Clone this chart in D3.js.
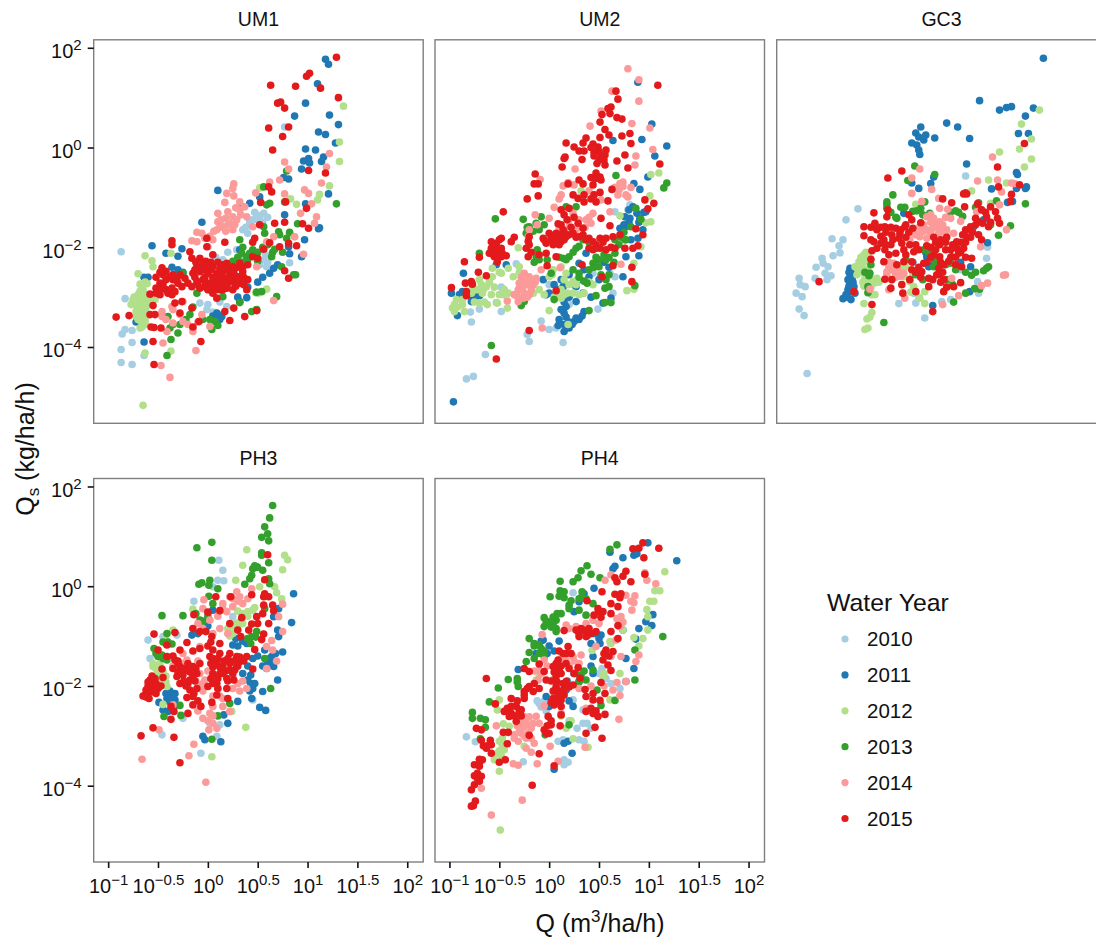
<!DOCTYPE html>
<html>
<head>
<meta charset="utf-8">
<script src="https://cdn.jsdelivr.net/npm/d3@7"></script>
<style>
body { margin: 0; background: #fff; }
svg { display: block; font-family: "Liberation Sans", Arial, sans-serif; }
</style>
</head>
<body>
<div id="chart"></div>
<script>
const years = ["2010", "2011", "2012", "2013", "2014", "2015"];
const colors = ["#a6cee3", "#1f78b4", "#b2df8a", "#33a02c", "#fb9a99", "#e31a1c"];
const xTicks = [-1, -0.5, 0, 0.5, 1, 1.5, 2];
const yTicks = [-4, -2, 0, 2];

const um1_2010 = [[-.87,-2.09],[-.83,-3.03],[-.83,-3.65],[-.86,-3.74],[-.76,-3.67],[-.76,-3.91],[-.87,-4.05],[-.87,-4.31],[-.76,-4.35],[-.64,-4.17],[.77,.41],[.49,-1.35],[.56,-1.32],[.45,-1.45],[.4,-1.72],[.56,-2.25],[.59,-2.39],[.29,-2.05],[.32,-2.19],[.82,-2.31],[.12,-1.52],[-.08,-3.12],[-.01,-3.25],[.19,-3.19],[.52,-1.4],[.47,-1.3],[.38,-1.6],[.6,-2.3],
  [.5,-1.45],[.55,-1.5],[.42,-1.55],[.35,-1.65],[.42,-1.5],[.58,-2.15],[.52,-2.35],[.6,-1.4],[.2,-2.1],[.08,-2.2],[.15,-2.25],[.05,-3.3],[.12,-3.1],[0,-3.15]];
const um1_2011 = [[1.18,1.77],[1.21,1.67],[1.1,1.28],[.98,.89],[.87,.63],[1.22,.65],[1.31,.46],[1.11,.31],[1.18,.26],[1.28,.09],[.98,-.03],[1.08,-.05],[1.16,-.19],[1.14,-.28],[1.01,-.22],[.96,-.27],[1.02,-.31],[.94,-.43],[.76,-.6],[.81,-.63],[1.21,-.93],[.98,-1.13],[1.11,-1.63],[1.12,-1.61],[.1,-.86],[-.06,-1.5],[-.56,-1.97],[-.26,-2.03],[-.42,-2.12],[-.3,-2.18],[-.36,-2.4],[-.64,-2.6],[-.6,-2.6],[-.72,-3.5],[-.64,-3.9],[.1,-3.35],[.09,-3.32],[.14,-3.39],[.32,-3.09],[.39,-3.01],[.62,-2.52],[.66,-2.42],[.94,-2.19],[.97,-1.85],[.81,-1.99],[.82,-2.13],[.77,-1.35],[.52,-.99],[.42,-1.12],[.34,-1.19],[.32,-2.05],[.7,-2.35],
  [.12,-3.45],[.08,-3.42],[.05,-3.38],[.3,-3],[.4,-2.8],[.55,-2.6],[.5,-2.7],[-.3,-2.45],[-.1,-2.4],[-.25,-2.5]];
const um1_2012 = [[1.36,.83],[1.32,.11],[1.32,-.28],[1.22,-.77],[1.12,-.94],[1.1,-1.05],[.89,-1.14],[.83,-1.03],[.52,-.81],[-.37,-2.12],[-.63,-2.17],[-.56,-2.27],[-.55,-2.39],[-.7,-2.53],[-.68,-2.74],[-.61,-2.73],[-.7,-2.95],[-.75,-3.05],[-.72,-3.15],[-.65,-3.05],[-.58,-2.99],[-.53,-3.05],[-.77,-3.15],[-.68,-3.29],[-.62,-3.22],[-.72,-3.39],[-.67,-3.49],[-.62,-3.39],[-.68,-3.62],[-.63,-3.55],[-.73,-3.02],[-.6,-3.12],[-.65,-2.92],[-.37,-4.08],[-.63,-4.12],[-.65,-5.17],[.5,-2.92],[.59,-2.84],[.48,-2.91],[.87,-1.79],[.82,-1.72],
  [-.74,-3],[-.7,-3.1],[-.66,-3.15],[-.6,-3.08],[-.56,-3.1],[-.7,-3.25],[-.65,-3.3],[-.72,-3.28],[-.66,-3.42],[-.7,-3.45],[-.63,-3.48],[-.66,-3.6],[-.65,-2.85],[-.68,-2.88],[-.62,-2.95],[-.55,-3],[-.75,-3.1],[-.63,-2.7]];
const um1_2013 = [[1.29,-1.13],[.79,-.47],[.56,-.79],[.59,-1.15],[.62,-1.12],[.77,-1.09],[.9,-1.53],[.79,-1.82],[.71,-1.69],[.57,-1.72],[.56,-1.59],[.32,-1.85],[.34,-2.12],[.39,-2.19],[.45,-2.05],[.4,-2.25],[.29,-2.32],[.22,-2.39],[.64,-2.19],[.67,-2.04],[.74,-2.39],[.86,-2.55],[.88,-2.55],[.69,-2.99],[.54,-2.89],[.49,-2.9],[.49,-3.25],[.44,-3.29],[.32,-3.11],[.04,-3.65],[.1,-3.57],[.07,-3.49],[-.3,-3.72],[-.38,-3.62],[-.37,-3.85],[-.41,-4.17],[-.4,-3.39],[-.18,-3.35],[-.11,-2.92],[.09,-2.72],[.15,-2.99],[-.25,-2.52],[-.35,-2.55],
  [.35,-2],[.42,-2.12],[.5,-2.1],[.55,-2],[.6,-1.95],[.3,-2.2],[.36,-2.3],[.5,-2.28],[.65,-2.1],[.25,-2.28],[.72,-1.75],[.75,-2.1],[.82,-1.7],[.12,-2.8],[-.15,-3.2],[-.22,-3.45],[-.05,-3.45],[.02,-3.45],[-.35,-3.55],[-.28,-3.55]];
const um1_2014 = [[1.22,-.12],[1.19,-.39],[1.14,-.71],[.97,-.85],[1.01,-.92],[1.04,-1.13],[.93,-1.32],[1.09,-1.39],[1.07,-1.52],[.77,-.29],[.81,-.43],[.72,-.65],[.62,-.69],[.77,-.93],[.48,-.91],[.26,-.73],[.25,-.82],[.19,-.92],[.26,-.97],[.17,-1.1],[.32,-1.09],[.28,-1.21],[.37,-1.19],[.1,-1.32],[.2,-1.29],[.25,-1.39],[.1,-1.49],[.15,-1.59],[.22,-1.52],[.29,-1.45],[.39,-1.39],[.25,-1.65],[.09,-1.65],[.45,-1.59],[-.11,-1.7],[-.06,-1.72],[-.16,-1.87],[-.11,-1.89],[.05,-1.85],[0,-1.99],[.66,-1.79],[.59,-1.89],[.87,-1.79],[.96,-2.14],[.49,-2.39],[.66,-3.07],[-.36,-3.19],[-.25,-3.09],[-.46,-3.29],[-.46,-3.39],[-.35,-3.52],[-.25,-3.49],[-.15,-3.62],[-.15,-3.69],[-.06,-3.35],[.02,-3.59],[-.41,-3.69],[-.45,-3.92],[-.12,-4.07],[-.47,-4.37],[-.38,-4.61],
  [.13,-1.45],[.18,-1.42],[.2,-1.55],[.27,-1.55],[.12,-1.6],[.33,-1.35],[.06,-1.68],[.18,-1.68],[.32,-1.25],[.02,-1.78],[-.03,-1.82],[-.35,-3.25],[-.28,-3.35],[-.2,-3.55],[-.1,-3.5],[-.42,-3.45]];
const um1_2015 = [[1.29,1.81],[1.02,1.49],[.99,1.43],[.63,1.25],[.88,1.23],[1.13,1.19],[1.31,1],[.7,.89],[.73,.91],[.77,.79],[.61,.39],[.81,.41],[.75,.22],[.65,-.05],[1.01,-.46],[1.18,-.51],[.61,-.79],[.64,-.89],[.53,-1.1],[.78,-1.09],[.99,-1.22],[.77,-1.5],[.67,-1.52],[.52,-1.55],[.95,-1.53],[1.01,-1.62],[.47,-1.82],[.45,-1.9],[.62,-1.91],[.72,-1.99],[.81,-1.92],[.89,-1.97],[.56,-2.04],[.45,-2.19],[.5,-2.22],[-.36,-1.87],[-.36,-1.95],[-.18,-2.09],[-.16,-2.22],[-.01,-1.82],[-.01,-1.99],[.17,-1.9],[.05,-2.15],
  [-.08,-2.22],[-.05,-2.32],[-.11,-2.39],[-.01,-2.39],[-.15,-2.52],[-.08,-2.49],[0,-2.52],[.05,-2.39],[.09,-2.52],[.19,-2.32],[.25,-2.39],[.32,-2.32],[.4,-2.35],[.15,-2.49],[.22,-2.55],[.29,-2.59],[.35,-2.49],[-.11,-2.69],[-.05,-2.65],[.02,-2.72],[.09,-2.69],[.15,-2.72],[.24,-2.69],[.32,-2.72],[.4,-2.65],[-.08,-2.82],[0,-2.85],[.05,-2.92],[.12,-2.85],[.19,-2.82],[.25,-2.85],[.39,-2.85],[.09,-3.02],[-.03,-2.79],
  [-.46,-2.41],[-.52,-2.6],[-.45,-2.55],[-.38,-2.59],[-.31,-2.62],[-.23,-2.62],[-.52,-2.82],[-.45,-2.75],[-.36,-2.82],[-.26,-2.79],[-.48,-2.95],[-.4,-2.92],[-.33,-2.89],[-.58,-2.94],[-.16,-2.79],[-.33,-3.12],[-.26,-3.09],[-.55,-3.17],[-.16,-3.22],[-.35,-2.65],
  [-.92,-3.4],[-.79,-3.37],[-.58,-3.35],[-.53,-3.35],[-.57,-3.6],[-.54,-3.61],[-.47,-3.62],[-.55,-3.89],[-.07,-3.89],[-.54,-4.35],[-.15,-3.6],[-.09,-3.49],[-.28,-3.32],[.17,-3.29],[.26,-3.22],[.22,-3.47],[.37,-3.39],[.49,-3.27],[.77,-2.47],[.81,-2.62],
  [-.12,-2.3],[-.02,-2.28],[.03,-2.3],[.1,-2.3],[.15,-2.35],[.3,-2.4],[.35,-2.4],[-.13,-2.45],[-.05,-2.45],[.03,-2.45],[.12,-2.42],[.2,-2.45],[.26,-2.5],[.33,-2.58],[-.13,-2.6],[-.03,-2.6],[.05,-2.6],[.12,-2.6],[.18,-2.62],[.26,-2.65],[.36,-2.6],[-.1,-2.75],[-.02,-2.72],[.05,-2.78],[.12,-2.75],[.2,-2.72],[.28,-2.78],[.36,-2.75],[.02,-2.85],[.08,-2.85],[.15,-2.85],[-.48,-2.5],[-.42,-2.48],[-.42,-2.65],[-.35,-2.55],[-.48,-2.72],[-.42,-2.85],[-.3,-2.72],[-.2,-2.72],[-.48,-2.85],[-.36,-2.95],[-.52,-2.92],[-.28,-2.55]];

const um2_2010 = [[.14,-3.91],[-.2,-3.89],[-.22,-3.75],[-.64,-4.15],[-.76,-4.59],[-.83,-4.64],[-.78,-3.5],[-.79,-3.3],[-.7,-3.24],[-.48,-3.29],[-.08,-3.48],[0,-3.65],[.07,-3.62],[.2,-3.15],[.49,-3.24],[-.33,-2.33],[0,-2.75],[.61,-2.52],[.66,-2.59],[.44,-2.52],[.81,-1.15],[.79,-1.25],[.66,-1.29],[.64,-2.92],[-.53,-3.11],[-.48,-2.8]];
const um2_2011 = [[-.96,-5.1],[.89,1.31],[1.03,.47],[.93,.16],[1.18,.03],[.64,.14],[1.06,-.17],[.99,-.59],[.85,-.72],[.91,-.84],[-.86,-2.52],[-.98,-2.92],[-.92,-3.37],[-.87,-2.89],[-.78,-3.09],[-.7,-2.97],[-.53,-2.35],[-.43,-2.35],[.15,-3.69],[.09,-3.57],[.2,-3.62],[.3,-3.45],[.25,-3.49],[.15,-3.32],[.17,-3.19],[.27,-3.09],[.35,-3.29],[0,-2.92],[-.03,-2.95],[.14,-2.79],[.12,-2.65],[.4,-2.59],[.3,-2.32],[.37,-2.12],[.47,-2.02],[.54,-3.12],[.62,-3.02],[.74,-2.59],[.77,-2.19],[.9,-2.17],[.89,-1.82],[.94,-1.65],[.84,-1.19],[.97,-1.29],[.76,-1.39],[.81,-1.42],[.91,-1.42],[.71,-1.62],[.77,-1.59],[.27,-2.79],[.09,-2.85],[-.06,-2.65],[.34,-2.92],[.17,-3.4],[.2,-3.5],[.33,-3.38],[.12,-3.25],
  [.15,-3.55],[.1,-3.45],[.23,-3.55],[.27,-3.42],[.15,-3.1],[.2,-3],[.42,-3],[.4,-2.7],[.45,-2.35],[.55,-2.3],[.35,-2.45],[.6,-2.4],[.5,-2.65],[.3,-2.65],[.2,-2.55],[.05,-2.75],[.8,-1.5],[.9,-1.5],[.82,-1.85],[.75,-1.55],[.95,-1.3],[.88,-1.32],[.8,-1.25],[-.8,-2.95],[-.75,-3],[-.9,-2.95]];
const um2_2012 = [[1.02,-.54],[1.1,-.51],[1.01,-.97],[1.02,-1.49],[.97,-1.51],[.71,-1.37],[.92,-1.99],[.85,-2.32],[.85,-2.84],[.78,-2.87],[0,-3.27],[-.42,-3.22],[.19,-3.55],[.32,-.87],
  [-.97,-3.22],[-.95,-3.29],[-.93,-3.05],[-.87,-3.15],[-.85,-3.29],[-.78,-2.92],[-.77,-2.79],[-.7,-2.65],[-.63,-2.79],[-.57,-2.59],[-.67,-2.92],[-.58,-2.95],[-.7,-3.12],[-.62,-3.15],[-.52,-3.12],[-.45,-2.85],[-.41,-2.92],[-.48,-2.52],[-.41,-2.42],[-.57,-2.42],[-.36,-2.59],[-.3,-2.39],[-.16,-2.92],[-.1,-2.85],
  [.04,-2.45],[.12,-2.39],[.17,-2.52],[.24,-2.69],[.27,-2.75],[.12,-2.85],[.15,-2.95],[.24,-2.92],[.35,-2.92],[.44,-2.75],[0,-2.59],[.12,-3.02],[-.31,-2.01],
  [-.68,-2.75],[-.66,-2.85],[-.6,-2.7],[-.55,-2.8],[-.72,-2.85],[-.75,-3.1],[-.92,-3.2],[-.95,-3.15],[-.87,-3.05],[-.65,-3.1],[-.5,-2.95],[-.46,-2.95],[-.3,-2.5],[-.5,-2.5],[.03,-2.55],[.15,-2.65],[.2,-2.75],[.28,-2.65],[.18,-2.92],[.1,-2.95],[.4,-2.7],[.3,-2.95],[-.05,-2.95],[.05,-3]];
const um2_2013 = [[-.58,-3.97],[-.54,-1.43],[-.7,-2.12],[-.26,-1.44],[.67,-.56],[1.18,-.71],[1.15,-.81],[.86,-2.77],[-.28,-3.17],[-.25,-3.09],[.05,-3.05],[.4,-3.27],[.56,-3.11],[.62,-3.11],[.47,-2.97],[.56,-2.82],[.6,-2.79],[.02,-2.52],[.24,-2.45],[.3,-2.52],[.44,-2.32],[.5,-2.39],[.57,-2.25],[.66,-2.12],[.77,-1.85],[.82,-1.59],[.92,-1.44],[.87,-1.22],[-.2,-1.59],[-.13,-1.52],[-.05,-1.55],[-.08,-1.39],[-.23,-1.72],[-.13,-2.19],[-.1,-2.25],[.14,-2.22],[.2,-2.19],[.27,-2.02],[.34,-1.85],[.66,-1.85],[.76,-1.85],[.17,-1.19],[.27,-1.19],
  [.1,-2.2],[.17,-2.25],[.24,-2.1],[.3,-1.98],[.4,-1.9],[.47,-2.2],[.5,-2.25],[.55,-2.15],[.6,-2.2],[.52,-2.55],[.57,-2.65],[.6,-2.55],[.65,-2.3],[.7,-1.95],[.3,-2.6],[.35,-2.68],[.38,-2.72],[-.02,-2.25],[-.12,-2.05],[-.16,-1.68],[-.22,-1.6],[-.1,-1.65],[.75,-1.7],[.72,-1.8],[.45,-2.4],[.4,-2.45],[-.15,-2.3]];
const um2_2014 = [[.79,1.58],[.9,1.36],[.9,.93],[.63,1.13],[.52,.73],[.41,.43],[.83,.48],[1.01,.39],[1.04,-.04],[.87,-.17],[.86,-.35],[.26,-.43],[-.09,-.64],[.14,-.77],[.19,-.7],[.4,-.87],[.71,-.72],[.74,-.69],[.69,-.95],[.79,-.99],[.82,-.8],[.1,-1.03],[.05,-1.2],[.52,-1.05],[.61,-1.29],[.44,-1.32],[.24,-1.32],[.37,-1.45],[.2,-1.59],[.27,-1.65],[-.14,-1.35],[0,-1.42],[-.21,-1.79],[-.08,-2.45],[.11,-2.41],[.72,-2.34],[-.42,-3.08],[-.07,-3.62],
  [-.25,-2.52],[-.2,-2.59],[-.13,-2.62],[-.3,-2.72],[-.23,-2.75],[-.16,-2.75],[-.31,-2.85],[-.25,-2.92],[-.2,-2.95],[-.35,-2.95],[-.31,-3.09],[-.26,-3.02],
  [.12,-.95],[.2,-1.45],[.3,-1.45],[.3,-1.6],[.4,-1.4],[.42,-1.52],[.36,-1.6],[.1,-1.6],[.15,-1.7],[-.12,-1.55],[-.2,-1.65],[.66,-.8],[.7,-.85],[.74,-.78],[.77,-.95],[.45,-.95],[.25,-.75],[-.27,-2.65],[-.2,-2.68],[-.27,-2.82],[-.18,-2.85],[-.22,-3],[-.32,-2.98],[-.28,-2.6],[-.14,-2.7]];
const um2_2015 = [[1.09,1.25],[.67,1.13],[.69,.97],[.62,.81],[.59,.78],[.61,.68],[.53,.66],[.68,.6],[.73,.57],[.51,.51],[.56,.36],[.73,.23],[.81,.28],[.82,.08],[.6,.25],[.51,.2],[.37,.19],[.17,.09],[.25,.01],[.34,.09],[.44,.07],[.49,.01],[.57,-.05],[.3,-.07],[.35,-.07],[.45,-.17],[.52,-.19],[.56,-.15],[.76,-.15],[.33,-.24],[.16,-.19],[.15,-.22],[.68,-.27],[.48,-.32],[.56,-.35],[.13,-.39],[.79,-.41],[1.11,-.33],[-.14,-.53],[-.11,-.73],[-.15,-.73],[.47,-.51],[.51,-.59],[.3,-.65],[.34,-.73],[.19,-.73],[.44,-.75],[.52,-.65],[.63,-.84],[-.11,-.97],[-.22,-1.03],[.24,-.95],[.51,-.9],[.29,-1.02],[.35,-1.09],[.42,-1.03],[.47,-1.09],[.59,-1.07],[.96,-1.05],[1.05,-1.12],[.99,-1.23],[-.46,-1.29],[.2,-1.22],[.12,-1.25],[.15,-1.35],[.29,-1.52],[.52,-1.42],[.61,-1.57],[.09,-1.53],[.34,-1.62],
  [-.06,-1.82],[-.03,-1.92],[.02,-1.79],[.07,-1.72],[.14,-1.65],[.17,-1.79],[.05,-1.89],[.12,-1.89],[.24,-1.72],[.3,-1.79],[.37,-1.85],[.44,-1.89],[.51,-1.82],[.57,-1.82],[.64,-1.79],[.71,-1.75],[.87,-1.63],[.94,-1.75],[.4,-2.02],[.51,-2.02],[.57,-2.05],[.66,-2.02],[.76,-2.02],[.84,-2.02],[.89,-1.97],[-.23,-2.02],[-.2,-1.79],[-.21,-2.19],[-.1,-2.15],[-.03,-2.12],[.07,-2.19],[-.02,-2.37],[.33,-2.35],[.64,-2.37],[.53,-2.59],[.83,-2.4],[.83,-2.69],[.07,-2.87],[-.2,-3.67],[-.53,-4.24],
  [-.58,-1.89],[-.53,-1.92],[-.48,-1.82],[-.58,-2.02],[-.53,-2.05],[-.48,-2.02],[-.6,-2.12],[-.55,-2.19],[-.48,-2.19],[-.43,-2.17],[-.52,-2.29],[-.38,-1.89],[-.35,-1.8],[-.85,-2.29],[-.7,-2.2],[-.71,-2.5],[-.63,-2.57],[-.78,-2.69],[-.84,-2.72],[-.77,-2.74],[-.83,-2.89],[-.83,-2.97],[-.98,-2.81],
  [0,-1.72],[.05,-1.78],[.1,-1.75],[.15,-1.7],[.2,-1.75],[.02,-1.85],[.08,-1.85],[.15,-1.85],[.1,-1.95],[.04,-1.95],[.27,-1.8],[.34,-1.75],[.4,-1.82],[.47,-1.95],[.54,-1.9],[.44,-2.05],[.62,-2],[-.2,-1.95],[-.18,-2.1],[-.21,-1.88],[-.05,-1.85],[-.55,-1.98],[-.52,-2.1],[-.58,-2.08],[-.5,-1.85],[-.56,-2.15],[-.47,-2.12],[.45,-.1],[.5,-.08],[.42,0],[.55,-.25],[.5,-.25],[.47,-.62],[.42,-.6],[.45,-.95],[.35,-.95],[.25,-1.4],[.18,-1.45],[.12,-1.55],[.22,-1.6]];

const gc3_2010 = [[-.84,-4.53],[-.87,-3.37],[-.92,-3.24],[-.95,-2.92],[-.89,-2.99],[-.86,-2.79],[-.92,-2.62],[-.91,-2.75],[-.75,-2.4],[-.76,-2.62],[-.69,-2.22],[-.68,-2.32],[-.63,-2.39],[-.66,-2.52],[-.6,-2.57],[-.64,-2.65],[-.58,-2.17],[-.51,-2.11],[-.52,-1.97],[-.48,-1.85],[-.59,-1.83],[-.45,-1.45],[-.33,-1.23],[.75,-.57],[.08,-3.13],[.25,-3.12],[.34,-3.42],[.51,-3.09],[.6,-3.05],[.88,-2.92],[.96,-2.22],[.97,-2],[.87,-2.69],[.7,-2.45],[.23,-2.92]];
const gc3_2011 = [[1.53,1.79],[.89,.94],[1.09,.75],[1.16,.8],[1.21,.82],[1.43,.79],[1.35,.63],[1.28,.28],[1.38,.28],[.56,.49],[.67,.41],[.79,.18],[.44,.19],[.3,.41],[.25,.29],[.35,.25],[.28,.21],[.33,.15],[.21,.09],[.26,.05],[.28,-.05],[.29,-.14],[.76,-.33],[1.26,-.5],[1.27,-.54],[.4,-.72],[.43,-.59],[.21,-.71],[.28,-.82],[1.01,-.83],[1.26,-.82],[1.36,-.79],[1.35,-.82],[1.17,-1.1],[1.22,-1.08],[.75,-.91],[-.41,-2.42],[-.41,-2.59],[-.41,-2.72],[-.43,-2.85],[-.37,-2.79],[-.48,-3.03],[-.4,-3.05],[-.36,-2.92],[-.39,-2.62],[-.42,-2.5],[.42,-3.17],[.79,-2.89],[.97,-1.91],[.8,-2.39],[.38,-2.39],[.43,-2.32],[.36,-2.19],[.13,-1.32],[.93,-1.45],[.83,-1.59],
  [-.4,-2.5],[-.43,-2.65],[-.38,-2.7],[-.42,-2.78],[-.39,-2.88],[-.45,-2.95],[-.43,-3],[-.37,-2.55],[.35,-2.1],[.45,-2.2],[.5,-2.35],[.6,-2.2],[.7,-2.3],[.22,-2.3]];
const gc3_2012 = [[1.49,.75],[1.31,.47],[1.41,.17],[1.29,-.03],[1.41,-.23],[1.34,-.39],[1.09,-.09],[.98,-.65],[1.16,-.71],[.81,-.87],[.25,-1.14],[-.27,-2.15],[-.32,-2.29],[-.36,-2.39],[-.29,-2.39],[-.24,-2.45],[-.34,-2.55],[-.26,-2.62],[-.21,-2.59],[-.17,-2.72],[-.14,-2.62],[-.24,-2.79],[-.19,-2.95],[-.16,-2.95],[-.27,-3.13],[-.19,-3.31],[-.21,-3.4],[-.24,-3.44],[-.23,-3.62],[-.26,-3.65],[.34,-3.13],[.29,-3.02],[.34,-2.89],[.23,-2.79],[.19,-2.69],[.13,-2.59],[.08,-2.39],[.8,-1.59],[1,-1.12],
  [-.3,-2.2],[-.27,-2.3],[-.33,-2.45],[-.3,-2.5],[-.27,-2.48],[-.22,-2.5],[-.28,-2.7],[-.24,-2.62],[-.2,-2.7],[-.27,-2.78],[-.2,-2.8],[-.12,-2.7],[-.25,-2.28],[-.22,-2.2],[-.25,-2.1],[.22,-2.55],[.15,-2.4],[.28,-3],[.2,-2.9],[.1,-2.45],[.05,-2.55]];
const gc3_2013 = [[.24,-.37],[.44,-.54],[.17,-.66],[.02,-.95],[-.04,-1.09],[.34,-1.09],[.14,-1.2],[-.04,-1.22],[.06,-1.42],[.26,-1.27],[.39,-1.32],[.65,-1.27],[.88,-1.11],[1.06,-1.07],[1.35,-1.13],[1.2,-1.57],[1.08,-1.76],[-.07,-3.51],[.63,-3.1],[.75,-2.92],[.84,-2.83],[.89,-2.84],[.81,-2.56],[.93,-2.47],[.98,-2.39],[.96,-2.42],[-.26,-2.5],[-.22,-2.57],[-.2,-2.35],[-.23,-2.79],[-.23,-2.91],[-.21,-2.52],[.32,-2.65],[.56,-2.65],[.43,-2.39],[.33,-2.05],[.6,-2.32],
  [-.04,-1.15],[0,-1.3],[.05,-1.4],[-.02,-1.3],[.1,-1.2],[.22,-1.28],[.3,-1.22],[.32,-1.35],[.6,-1.3],[.68,-1.3],[.72,-1.38],[.9,-1.25],[.85,-1.2],[.38,-2.1],[.45,-2.28],[.55,-2.35],[.65,-2.45],[.75,-2.5],[.85,-2.5],[.62,-2.75],[.25,-2.55],[.15,-2.25],[1,-1.55]];
const gc3_2014 = [[1.02,-.19],[.29,-.43],[.21,-.61],[.87,-.67],[1.07,-.65],[1.21,-.71],[1.24,-.72],[.21,-.92],[.41,-.84],[.31,-1.08],[1.11,-.89],[1.09,-1.15],[.48,-1.02],[.49,-1.22],[.57,-1.24],[.6,-1.42],[.7,-1.48],[.86,-1.29],[1.16,-1.65],[1.15,-2.55],[1.13,-2.56],[.97,-2.72],[.91,-2.77],[.68,-2.97],[.52,-3.15],[.14,-3.02],[-.02,-2.85],[-.21,-2.84],[.9,-1.99],[.61,-2.62],
  [.36,-1.39],[.43,-1.42],[.49,-1.49],[.29,-1.59],[.36,-1.65],[.43,-1.59],[.49,-1.65],[.56,-1.65],[.23,-1.72],[.19,-1.85],[.29,-1.79],[.36,-1.82],[.63,-1.72],[-.02,-2.39],[.03,-2.32],[-.04,-2.49],[.04,-2.49],[.13,-2.52],
  [.4,-1.5],[.46,-1.55],[.52,-1.55],[.33,-1.68],[.4,-1.72],[.48,-1.72],[.25,-1.75],[.3,-1.7],[.22,-1.65],[.33,-1.55],[.42,-1.62],[.55,-1.72],[0,-2.45],[-.04,-2.55],[.02,-2.4],[.07,-2.45],[.1,-2.58],[.05,-2.6],[-.02,-2.3],[.4,-1.35],[.55,-1.4]];
const gc3_2015 = [[1.34,.08],[1.07,-.39],[.11,-.47],[-.03,-.61],[1.08,-.79],[1.29,-.75],[1.21,-.94],[1.2,-1.08],[.73,-.93],[.76,-.93],[.52,-1.03],[.61,-1.11],[.87,-1.13],[.74,-1.19],[-.17,-1.31],[-.03,-1.25],[.91,-1.25],[1,-1.19],[1.05,-1.29],[.96,-1.39],[1.07,-1.42],[.88,-1.49],[.98,-1.59],[.8,-1.59],[1.09,-1.52],[-.27,-1.59],[-.16,-1.52],[-.04,-1.39],[-.06,-1.59],[-.27,-1.77],[-.14,-1.65],[.18,-1.35],[.21,-1.45],[.3,-1.51],[.14,-1.59],[.09,-1.72],[.01,-1.75],[-.07,-1.85],[-.17,-1.89],[-.14,-2.02],[-.19,-2.07],[-.06,-2.05],[0,-1.95],[.11,-1.92],[.19,-1.95],[.13,-2.05],[.23,-2.09],[.43,-1.8],[.56,-1.8],[.49,-1.95],[.36,-1.97],[.6,-2.05],[.66,-1.89],[.76,-1.79],[.8,-1.65],[.88,-1.75],[.91,-1.85],[.73,-2.02],[.68,-2.12],[.81,-2.22],[.71,-2.39],[.61,-2.19],[.53,-2.35],[.43,-2.15],[.49,-2.19],[.33,-2.32],[.21,-2.29],[.13,-2.29],[.06,-2.35],[-.07,-2.29],[-.2,-2.24],[.21,-2.45],[.31,-2.49],[.48,-2.55],[.53,-2.65],[-.06,-2.64],[.01,-2.65],[.19,-2.65],[.38,-2.62],[.11,-2.75],[0,-2.82],[.12,-2.92],[.25,-2.89],[.38,-2.79],[.53,-2.89],[.63,-2.79],[.7,-2.71],[-.19,-3.15],[-.37,-2.89],[-.72,-2.69],[.42,-3.29],
  [0,-1.6],[.05,-1.62],[.1,-1.65],[-.2,-1.6],[-.1,-1.6],[-.05,-1.7],[-.1,-1.78],[-.2,-1.85],[.02,-1.85],[.08,-1.82],[.15,-1.8],[.22,-1.62],[.18,-1.7],[.15,-1.55],[.25,-1.95],[.28,-2.05],[.15,-2.15],[.05,-2.12],[-.02,-2.15],[-.05,-1.95],[-.1,-1.92],[.4,-2],[.45,-1.9],[.5,-1.85],[.55,-1.9],[.45,-2.05],[.55,-2.05],[.62,-1.95],[.66,-2.02],[.7,-1.9],[.75,-1.9],[.8,-1.8],[.72,-1.75],[.85,-1.55],[.92,-1.52],[1,-1.5],[.95,-1.3],[.85,-1.42],[.4,-2.2],[.36,-2.3],[.5,-2.3],[.58,-2.28],[.65,-2.2],[.7,-2.1],[.75,-2.2],[.65,-2.35],[.48,-2.42],[.52,-2.5],[.46,-2.55],[.28,-2.4],[.25,-2.5],[.3,-2.6],[.42,-2.65],[.5,-2.7],[.56,-2.8],[.75,-1.65],[.82,-1.7]];

const ph3_2010 = [[-.6,-1.08],[-.58,-1.45],[-.46,-2.98],[-.25,-2.65],[-.07,-3.35],[.11,.52],[.15,.32],[.1,.12],[.16,.11],[-.14,-.3],[-.45,-1.01],[-.31,-.98],[.09,-3.01],[.12,-2.78],[.02,-2.75],[.45,-2.28],[.05,-.01],[.25,-.61]];
const ph3_2011 = [[.86,-.15],[.84,-.73],[.75,-1.32],[.7,-1.88],[.66,-1.61],[.59,-1.65],[.64,-1.41],[.57,-1.28],[.71,-.45],[.66,-.61],[.71,-1.01],[.7,-.88],[.58,-2.49],[.52,-2.43],[.55,-2.11],[.44,-2.25],[.4,-1.88],[.47,-1.95],[.45,-1.45],[.25,-1.18],[.39,-1.15],[-.38,-2.21],[-.33,-2.15],[-.41,-2.25],[-.45,-2.48],[-.49,-2.33],[-.4,-2.51],[-.05,-3.01],[-.03,-3.08],[.13,-3.12],[.2,-2.75],[.16,-2.58],[.3,-2.31],[-.16,-.98],[.05,-.48],[-.38,-2.3],[-.33,-2.28],[.43,-1.95],[.62,-1.55],
  [-.38,-2.1],[-.4,-2.3],[-.35,-2.35],[-.42,-2.15],[-.34,-2.42],[.62,-1.45],[.6,-1.5],[.55,-1.6],[.68,-1.35],[.43,-1.78],[.42,-2.1],[.45,-2.05],[.35,-1.75],[.3,-1.2],[.35,-1.1],[.28,-1.05],[.5,-1.4],[.4,-1.6],[-.1,-.95],[0,-.8]];
const ph3_2012 = [[.38,-2.83],[.04,-3.42],[.39,.73],[.35,.42],[.77,.62],[.8,.53],[.75,.33],[.28,.12],[.67,-.01],[.69,-.13],[.74,-.25],[.52,-.01],[-.35,-.88],[-.55,-1.61],[-.5,-1.75],[-.45,-1.88],[-.41,-2.01],[-.45,-2.37],[-.15,-.46],[.4,-.51],[.47,-.43],[.32,-.71],[.25,-.95],[.35,-.55],[.24,-2.51],[-.5,-1.6],[-.45,-1.7],
  [-.55,-1.55],[-.52,-1.65],[-.48,-1.55],[-.46,-1.78],[-.42,-1.8],[-.48,-1.9],[-.42,-1.92],[-.5,-1.68],[.35,-.75],[.28,-.75],[.2,-.85],[.25,-.8],[.3,-.85],[.4,-.6],[.3,-.5],[.45,-.48],[-.42,-1.08],[.22,-1]];
const ph3_2013 = [[.65,1.62],[.62,1.37],[.57,1.19],[.6,1.05],[.54,.98],[.61,.91],[.04,.88],[-.11,.77],[.04,.52],[.54,.67],[.54,.62],[.61,.47],[.49,.39],[.45,.35],[.55,.32],[.44,.22],[.42,.15],[.61,.15],[.62,.05],[.02,.12],[-.09,.04],[-.06,.07],[.01,.02],[.1,-.05],[.37,.04],[.01,-.2],[.05,-.35],[-.46,-.59],[-.25,-.59],[-.08,-.68],[-.41,-.95],[-.36,-1.16],[-.54,-1.25],[-.5,-1.41],[-.41,-1.48],[.63,-2.05],[.04,-3.07],[-.44,-2.61],[-.27,-2.59],[-.28,-2.39],[.1,-2.6],[.22,-2.35],[.44,-1.01],[.49,-.91],[.57,-1.45],[.57,-.45],[.5,.38],[.47,.41],
  [-.45,-1.12],[-.4,-1.12],[-.46,-1.38],[-.42,-1.15],[-.52,-1.35],[-.45,-1.45],[.4,-1.05],[.43,-1.15],[.48,-1.02],[0,-.6],[-.05,-.7],[-.12,-.55]];
const ph3_2014 = [[-.02,-3.93],[-.66,-3.47],[-.49,-2.88],[-.19,-3.4],[-.14,-3.17],[.01,-2.88],[.09,-2.85],[-.05,-2.65],[.05,-2.41],[.15,-2.41],[.22,-2.51],[-.08,-2.01],[-.03,-1.88],[.39,-2.05],[.3,-1.95],[.59,-1.65],[.69,-1.5],[.65,-1.28],[.64,-1.09],[.59,-1.21],[.75,-.91],[.71,-.61],[.75,-.36],[.44,-.05],[.29,-.11],[.22,-.21],[.15,-.35],[.25,-.41],[.35,-.35],[.19,-.51],[-.04,-.27],[-.05,-.45],[.02,-.68],[-.25,-1.35],[-.21,-1.48],[-.08,-1.21],[-.15,-1.68],[-.35,-2.38],[-.08,-1.75],[.25,-1.81],[.32,-.21],[.02,-2.55],[.12,-2.2],[.32,-2.1],
  [-.2,-1.6],[-.1,-1.5],[-.12,-1.9],[-.05,-1.95],[0,-1.7],[-.05,-2.1],[.05,-2.2],[.1,-2.05],[.15,-2.25],[.25,-2.05],[.05,-2.6],[0,-2.7],[.05,-2.75],[.1,-.6],[.15,-.45],[.3,-.3],[.4,-.25],[-.1,-.75],[-.05,-.85],[.12,-.85],[.2,-.95],[.05,-.95],[.35,-1.9],[.25,-.25],[-.25,-1.55],[-.35,-1.6],[-.1,-2.5]];
const ph3_2015 = [[.6,.63],[.57,.13],[.08,-.21],[.44,-.17],[.57,-.15],[.61,-.21],[.56,-.21],[.56,-.38],[.65,-.38],[.66,-.49],[.23,-.21],[.12,-.49],[0,-.52],[-.14,-.57],[.34,-.63],[.49,-.61],[.55,-.55],[.22,-.75],[.44,-.76],[.5,-.75],[.61,-.75],[-.33,-.93],[-.54,-.96],[-.15,-.85],[-.08,-.91],[-.02,-.91],[.04,-1.01],[.3,-.88],[.41,-.88],[.33,-1.01],[.56,-.96],[.54,-1.07],[-.41,-1.18],[-.5,-1.28],[-.41,-1.41],[-.28,-1.28],[-.21,-1.13],[-.08,-1.25],[.12,-1.15],[.05,-1.28],[.02,-1.41],[.12,-1.35],[.22,-1.35],[.29,-1.41],[.39,-1.41],[.47,-1.27],[-.33,-1.48],[-.46,-1.66],
  [-.35,-1.65],[-.28,-1.61],[-.21,-1.68],[-.15,-1.61],[-.08,-1.55],[-.31,-1.81],[-.25,-1.78],[-.18,-1.88],[-.11,-1.75],[-.28,-1.95],[-.18,-2.08],[-.11,-2.05],[.09,-1.55],[.15,-1.61],[.22,-1.55],[.29,-1.61],[.05,-1.75],[.12,-1.75],[.19,-1.85],[.25,-1.75],[.32,-1.51],[0,-2.01],[.09,-1.95],[.19,-2.05],
  [-.58,-1.88],[-.53,-1.85],[-.62,-2.08],[-.55,-2.01],[-.5,-2.05],[-.63,-2.18],[-.59,-2.25],[-.52,-2.15],[-.45,-1.83],
  [-.67,-3],[-.55,-2.84],[-.34,-3.03],[-.28,-3.54],[-.37,-2.67],[-.37,-2.41],[-.34,-2.51],[-.2,-2.55],[-.15,-2.38],[-.07,-2.41],[-.21,-2.23],[-.15,-2.21],[.04,-2.33],[.09,-2.18],[.2,-2.25],[.45,-1.66],
  [-.3,-1.55],[-.25,-1.65],[-.2,-1.55],[-.18,-1.72],[-.12,-1.65],[-.24,-1.9],[-.15,-1.8],[-.2,-1.95],[-.3,-1.72],[-.13,-1.9],[-.22,-2],[-.14,-2.15],[.05,-1.45],[.1,-1.45],[.16,-1.5],[.2,-1.45],[.26,-1.5],[.32,-1.42],[.05,-1.62],[.03,-1.55],[.12,-1.62],[.18,-1.7],[.22,-1.68],[.27,-1.68],[.3,-1.6],[.36,-1.5],[.1,-1.85],[.15,-1.75],[.2,-1.9],[.26,-1.88],[.03,-1.85],[.05,-1.95],[.1,-2.05],[-.55,-1.95],[-.52,-1.95],[-.6,-2],[-.57,-2.12],[-.53,-2.08],[-.56,-1.8],[-.6,-1.92],[-.47,-2],[-.65,-2.2],[-.62,-2.22],[-.15,-1.3],[0,-1.2],[.03,-1.12],[-.35,-1.4],[-.3,-1.5],[-.1,-2.3]];

const ph4_2010 = [[-.83,-3.02],[-.74,-3.12],[-.26,-3.52],[.15,-3.48],[.15,-3.58],[.19,-3.53],[-.1,-2.35],[-.05,-2.31],[.24,-.13],[.57,-1.85],[.71,-2.05],[.24,-2.28],[.34,-2.75],[.3,-3.08],[.35,-3.11],[.14,-3.08],[.09,-3.11],[.34,-2.48],
  [-.08,-2.42],[-.12,-2.3],[-.03,-2.5],[.05,-2.25],[.1,-2.15],[.5,-1.75],[.53,-1.65],[.2,-2.7],[.42,-2.85],[.38,-2.75],[.28,-2.85],[.62,-1.95]];
const ph4_2011 = [[1.28,.51],[.99,.87],[.85,.62],[.88,.65],[.74,.57],[.66,.4],[.64,.35],[.61,.68],[.45,-.04],[.35,-.15],[1.04,-.57],[.97,-.71],[1.03,-.79],[.9,-.85],[.87,-1.06],[.77,-1.45],[.85,-1.65],[.77,-1.91],[.51,-1.15],[.52,-.98],[.44,-1.41],[.25,-.51],[.3,-.31],[-.06,-1.08],[-.13,-1.35],[-.31,-1.67],[-.03,-2.21],[0,-2.41],[.15,-3.15],[.19,-3.11],[.23,-3.35],[.05,-3.67],[.24,-2.41],[.17,-2.08],[.44,-1.75],[.74,-.88],
  [0,-1.2],[-.08,-1.1],[.1,-1.1],[-.02,-1.35],[.05,-1.3],[.45,-.95],[.5,-1.05],[.38,-1],[.42,-1.15],[.25,-1.75],[.3,-1.9],[.18,-1.9],[.2,-2.3],[.05,-2.1],[.1,-2.3],[.42,-1.6]];
const ph4_2012 = [[1.16,.29],[1.11,-.09],[1.06,-.09],[1.05,-.3],[1.01,-.3],[.98,-.47],[.99,-.61],[.99,-.88],[.94,-1.05],[.85,-1.03],[.9,-1.2],[.71,-1.75],[.74,-.88],[.61,-1.11],[.43,-1.29],[.54,-1.81],[-.5,-2.28],[-.52,-2.48],[-.46,-2.76],[-.4,-2.81],[-.5,-3.11],[-.45,-3.28],[-.52,-3.35],[-.55,-3.48],[-.5,-3.71],[-.49,-4.89],[-.13,-1.88],[.24,-3.06],[.39,-3.23],[.17,-2.85],[.61,-2.28],[-.25,-3.21],
  [-.45,-2.95],[-.47,-3.05],[-.47,-3.2],[-.5,-3.3],[-.48,-3.4],[.05,-1.85],[-.1,-1.78],[.55,-1.75],[.62,-1.15],[.22,-2.7],[.12,-2.6]];
const ph4_2013 = [[.68,.83],[.61,.74],[.38,.41],[.32,.31],[.42,.24],[.29,.17],[.24,.09],[.51,.17],[.11,.1],[.11,-.09],[.15,-.11],[.01,-.21],[.15,-.23],[.22,-.29],[.2,-.38],[.33,-.11],[.37,-.25],[.44,-.35],[.3,-.48],[.37,-.58],[-.05,-.63],[.12,-.55],[.05,-.65],[.04,-.75],[-.05,-.81],[.07,-.91],[-.2,-1.05],[-.15,-1.15],[-.08,-1.25],[-.2,-1.33],[-.05,-1.41],[-.23,-1.51],[-.41,-1.87],[-.32,-1.85],[-.31,-2.01],[-.51,-2.04],[-.6,-2.32],[-.77,-2.53],[-.77,-2.65],[-.69,-2.65],[-.64,-2.68],[-.64,-2.83],[-.69,-3.06],[1.14,-1.01],[.86,-1.88],[.86,-1.28],[.66,-2.29],[.52,-2.39],[.2,-2.78],[-.04,-2.98],[.27,-1.75],[.37,-1.88],[.44,-1.68],[.48,-2.08],
  [.04,-.62],[.07,-.68],[.02,-.82],[.07,-.85],[0,-.72],[-.03,-.7],[-.15,-1.2],[-.1,-1.18],[-.1,-1.35],[-.15,-1.45],[-.05,-1.3],[-.32,-1.92],[.32,-1.78],[.3,-1.92],[.35,-1.7],[.08,-.55],[.2,-.45],[.33,-.2],[.3,-.25],[.1,-.2]];
const ph4_2014 = [[.96,.27],[.98,.12],[1.07,.05],[.86,-.19],[.85,-.33],[.83,-.48],[.77,-.18],[.62,.23],[.56,.12],[.72,-.61],[.71,-.81],[.87,-1.51],[.9,-1.38],[.77,-1.91],[.68,-1.93],[.64,-2.08],[.71,-2.19],[.7,-2.67],[.36,-3.23],[.01,-3.21],[-.12,-3.56],[-.31,-3.59],[-.36,-3.56],[-.68,-4.05],[-.27,-4.29],[-.58,-4.59],[-.53,-2.8],[.09,-3.51],[-.18,-3.33],[-.23,-3.25],[-.07,-.97],[.17,-.78],[.27,-.81],[.37,-.75],[.44,-.68],[.67,-1.08],[.47,-1.21],[.24,-1.41],[.3,-1.55],[.17,-1.48],[-.1,-1.68],[-.05,-1.48],[-.11,-1.88],[.72,-1.41],[.62,-1.41],
  [-.3,-2.81],[-.23,-2.75],[-.16,-2.75],[-.35,-2.98],[-.28,-2.95],[-.21,-2.95],[-.13,-2.61],[-.1,-2.75],[-.31,-3.11],[-.23,-3.05],[-.15,-3.15],
  [-.3,-2.65],[-.25,-2.62],[-.2,-2.62],[-.26,-2.7],[-.32,-2.8],[-.18,-2.85],[-.25,-2.82],[-.3,-2.92],[-.25,-3],[-.18,-3.05],[-.35,-3.05],[.2,-1.35],[.25,-1.5],[.12,-1.45],[.2,-1.6],[.32,-1.38],[.35,-.85],[.3,-.92],[.2,-.85],[.5,-.75],[.05,-2.15],[-.08,-1.75],[-.02,-1.6],[-.15,-1.7],[.37,-2.45],[.12,-2.55],[.3,-2.05],[.42,-2],[.55,-2],[-.05,-2.4],[.68,-.65],[.74,-.72],[.82,-.3]];
const ph4_2015 = [[1.1,.76],[.94,.87],[.84,.75],[.9,.76],[.95,.57],[.77,.3],[.96,.24],[.74,.2],[.66,.17],[.68,.09],[.82,.09],[.53,-.11],[.66,-.16],[.72,-.15],[.71,-.23],[.38,-.29],[.62,-.35],[.69,-.41],[.49,-.45],[.54,-.51],[.62,-.55],[.45,-.58],[.69,-.79],[.62,-.91],[.69,-1.05],[.27,-.88],[.34,-.88],[.4,-.85],[.47,-.91],[.3,-1.01],[.37,-1.01],[.15,-.89],[.57,-1.28],[.64,-1.31],[.54,-1.48],[.59,-1.58],[.62,-1.69],[-.63,-1.85],
  [.19,-1.21],[.14,-1.35],[.22,-1.35],[.09,-1.48],[.17,-1.55],[.04,-1.61],[.1,-1.68],[.07,-1.81],[-.25,-1.65],[-.2,-1.71],[-.1,-1.56],[-.05,-1.71],[-.03,-1.88],[.31,-1.84],[.29,-1.63],[.17,-1.91],[.24,-1.98],[.07,-2.01],[.15,-2.05],[.09,-2.18],[.04,-2.25],[.12,-2.28],[.05,-2.38],[.12,-2.41],[-.2,-2.01],[-.1,-2.05],[-.25,-2.11],[-.16,-2.11],[-.25,-2.25],[-.38,-2.25],[-.38,-2.41],[-.33,-2.41],[-.28,-2.48],[-.45,-2.51],[-.4,-2.61],[-.33,-2.71],[-.54,-2.36],[-.73,-2.85],[-.68,-2.88],[-.46,-2.93],[-.41,-2.93],[-.2,-2.99],[-.42,-3.16],[-.68,-3.09],[-.59,-3.09],[-.58,-3.18],[-.63,-3.25],[-.58,-3.35],[-.1,-3.36],[-.7,-3.47],[-.67,-3.48],[-.75,-3.58],[-.7,-3.61],[-.44,-3.48],[-.5,-3.53],[-.75,-3.8],[-.68,-3.81],[-.7,-3.91],[-.75,-3.98],[-.78,-4.08],[-.17,-3.99],[-.74,-4.31],[-.76,-4.4],[-.78,-4.41],[.05,-3.6],
  [-.01,-2.61],[.02,-2.78],[-.05,-2.88],[0,-2.95],[.12,-2.58],[.11,-2.8],[.37,-2.51],[.44,-2.55],[.49,-2.61],[.56,-2.57],[.46,-2.83],[.37,-2.95],[.53,-3.05],[.37,-2.21],[.44,-2.15],[.44,-2.28],[.51,-2.29],[.56,-2.15],[.36,-2.07],[.52,-1.93],
  [.1,-1.3],[.17,-1.35],[.07,-1.55],[.12,-1.6],[.2,-1.65],[.05,-1.72],[.12,-1.75],[.02,-1.9],[.08,-1.92],[.2,-2.02],[.25,-1.75],[.14,-1.95],[.04,-2.1],[.1,-2.1],[.15,-2.18],[.02,-2.32],[.07,-2.3],[-.15,-1.95],[-.22,-2.05],[-.25,-2.18],[-.32,-2.3],[-.3,-2.5],[-.38,-2.55],[-.35,-2.6],[-.28,-2.6],[-.42,-2.45],[.3,-.95],[.38,-.92],[.32,-.85],[.42,-.95],[.5,-.5],[.52,-.62],[.55,-1.35],[.6,-1.4],[-.02,-2.8],[.02,-2.7],[-.03,-2.95],[.42,-2.45],[.47,-2.5],[-.62,-3.2],[-.66,-3.2],[-.7,-3.55],[-.72,-3.85],[-.72,-3.75]];

const panels = [
    { name: "UM1", col: 0, row: 0, series: [um1_2010, um1_2011, um1_2012, um1_2013, um1_2014, um1_2015] },
    { name: "UM2", col: 1, row: 0, series: [um2_2010, um2_2011, um2_2012, um2_2013, um2_2014, um2_2015] },
    { name: "GC3", col: 2, row: 0, series: [gc3_2010, gc3_2011, gc3_2012, gc3_2013, gc3_2014, gc3_2015] },
    { name: "PH3", col: 0, row: 1, series: [ph3_2010, ph3_2011, ph3_2012, ph3_2013, ph3_2014, ph3_2015] },
    { name: "PH4", col: 1, row: 1, series: [ph4_2010, ph4_2011, ph4_2012, ph4_2013, ph4_2014, ph4_2015] }
];

const width = 1096, height = 937;
const panelW = 329.5, panelH = 383.5;
const colX = [93.7, 435, 776.7];
const rowY = [39.8, 478.5];
const textColor = "#111";
const dotRadius = 3.8;

const x = d3.scaleLog().domain([Math.pow(10, -1.145), Math.pow(10, 2.16)]).range([0, panelW]);
const y = d3.scaleLog().domain([Math.pow(10, -5.53), Math.pow(10, 2.16)]).range([panelH, 0]);

const svg = d3.select("#chart").append("svg")
    .attr("width", width)
    .attr("height", height);

// writes 10^n as real text with a raised exponent
const powerLabel = (sel, exp) => {
    sel.text(null);
    sel.append("tspan").attr("font-size", 20).text("10");
    sel.append("tspan").attr("font-size", 15).attr("dy", -8).text(exp < 0 ? "\u2212" + (-exp) : exp);
};

panels.forEach(p => {
    const g = svg.append("g")
        .attr("transform", "translate(" + colX[p.col] + "," + rowY[p.row] + ")");

    g.append("text")
        .attr("x", panelW / 2)
        .attr("y", -14)
        .attr("text-anchor", "middle")
        .attr("font-size", 19.5)
        .attr("fill", textColor)
        .text(p.name);

    p.series.forEach((points, i) => {
        g.append("g").selectAll("circle")
            .data(points)
            .enter().append("circle")
            .attr("cx", d => x(Math.pow(10, d[0])))
            .attr("cy", d => y(Math.pow(10, d[1])))
            .attr("r", dotRadius)
            .attr("fill", colors[i]);
    });

    g.append("rect")
        .attr("width", panelW)
        .attr("height", panelH)
        .attr("fill", "none")
        .attr("stroke", "#7f7f7f")
        .attr("stroke-width", 1.4);

    // only the left column and the bottom row get axes
    if (p.col === 0) {
        const yAxis = g.append("g")
            .call(d3.axisLeft(y).tickValues(yTicks.map(v => Math.pow(10, v))).tickSize(6).tickPadding(6).tickFormat(""));
        yAxis.select(".domain").remove();
        yAxis.selectAll(".tick line").attr("stroke", "#111").attr("stroke-width", 1.6);
        yAxis.selectAll(".tick text")
            .attr("fill", textColor)
            .attr("dy", 10)
            .each(function(d) { powerLabel(d3.select(this), Math.round(Math.log10(d))); });
    }
    if (p.row === 1) {
        const xAxis = g.append("g")
            .attr("transform", "translate(0," + panelH + ")")
            .call(d3.axisBottom(x).tickValues(xTicks.map(v => Math.pow(10, v))).tickSize(6).tickPadding(8).tickFormat(""));
        xAxis.select(".domain").remove();
        xAxis.selectAll(".tick line").attr("stroke", "#111").attr("stroke-width", 1.6);
        xAxis.selectAll(".tick text")
            .attr("fill", textColor)
            .attr("dy", 17)
            .each(function(d) { powerLabel(d3.select(this), Math.round(Math.log10(d) * 10) / 10); });
    }
});

// axis titles
const xTitle = svg.append("text")
    .attr("x", 600)
    .attr("y", 932)
    .attr("text-anchor", "middle")
    .attr("font-size", 25)
    .attr("fill", textColor);
xTitle.append("tspan").text("Q (m");
xTitle.append("tspan").attr("font-size", 17).attr("dy", -10).text("3");
xTitle.append("tspan").attr("dy", 10).text("/ha/h)");

const yTitle = svg.append("text")
    .attr("transform", "translate(34,449) rotate(-90)")
    .attr("text-anchor", "middle")
    .attr("font-size", 25)
    .attr("fill", textColor);
yTitle.append("tspan").text("Q");
yTitle.append("tspan").attr("font-size", 17).attr("dy", 5).text("s");
yTitle.append("tspan").attr("dy", -5).text(" (kg/ha/h)");

// legend
const legend = svg.append("g").attr("transform", "translate(827,611)");
legend.append("text")
    .attr("font-size", 24.8)
    .attr("fill", textColor)
    .text("Water Year");
years.forEach((year, i) => {
    const row = legend.append("g").attr("transform", "translate(0," + (28 + i * 35.9) + ")");
    row.append("circle").attr("cx", 18).attr("r", 3.6).attr("fill", colors[i]);
    row.append("text")
        .attr("x", 40)
        .attr("y", 7)
        .attr("font-size", 20.5)
        .attr("fill", textColor)
        .text(year);
});
</script>
</body>
</html>
